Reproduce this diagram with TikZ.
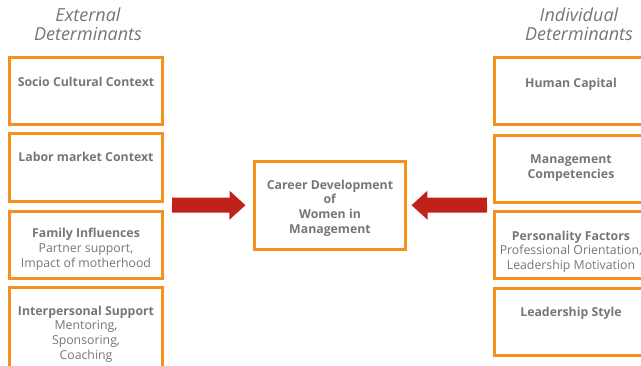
\documentclass[tikz,border=0pt]{standalone}
\usepackage{fontspec}
\setmainfont{Open Sans}
\usepackage{tikz}
\usetikzlibrary{positioning, arrows.meta}
\definecolor{boxorange}{RGB}{245,146,30}
\definecolor{txtgray}{RGB}{118,118,118}
\definecolor{arrowred}{RGB}{192,33,26}
\tikzset{
  detbox/.style={draw=boxorange, line width=3pt, minimum width=153pt, minimum height=67pt, inner sep=0pt},
  boxtext/.style={text=txtgray, align=center, inner sep=0pt, font=\fontsize{12.3}{14.7}\selectfont},
  titletext/.style={text=txtgray, align=center, inner sep=0pt, font=\fontsize{18}{18.5}\selectfont\itshape},
  bigarrow/.style={draw=arrowred, line width=15pt, -{Triangle[length=16pt,width=28pt]}}
}

\begin{document}
\begin{tikzpicture}[x=1pt, y=-1pt]
  \useasboundingbox (0,0) rectangle (641,366);
  \clip (0,0) rectangle (641,366);
  % titles
  \node[titletext] (extTitle) at (88,24.5) {External\\Determinants};
  \node[titletext] (indTitle) at (579,24.5) {Individual\\Determinants};
  % external determinants
  \node[detbox] (socio) at (86,91) {};
  \node[detbox, minimum height=68pt] (labor) at (86,167.5) {};
  \node[detbox] (family) at (86,245) {};
  \node[detbox, minimum height=84pt] (interpers) at (86,329.5) {};
  \node[boxtext, below=21pt of socio.north] (socio-t) {\textbf{Socio Cultural Context}};
  \node[boxtext, below=20pt of labor.north] (labor-t) {\textbf{Labor market Context}};
  \node[boxtext, below=18pt of family.north] (family-t) {\textbf{Family Influences}\\Partner support,\\Impact of motherhood};
  \node[boxtext, below=19.5pt of interpers.north] (interpers-t) {\textbf{Interpersonal Support}\\Mentoring,\\Sponsoring,\\Coaching};
  % individual determinants
  \node[detbox] (humancap) at (571,91) {};
  \node[detbox] (mgmtcomp) at (571,169) {};
  \node[detbox] (personality) at (571,245) {};
  \node[detbox] (leadstyle) at (571,322.5) {};
  \node[boxtext, below=22pt of humancap.north] (humancap-t) {\textbf{Human Capital}};
  \node[boxtext, below=21pt of mgmtcomp.north] (mgmtcomp-t) {\textbf{Management}\\\textbf{Competencies}};
  \node[boxtext, below=20.5pt of personality.north] (personality-t) {\textbf{Personality Factors}\\Professional Orientation,\\Leadership Motivation};
  \node[boxtext, below=19pt of leadstyle.north] (leadstyle-t) {\textbf{Leadership Style}};
  % centre
  \node[detbox, minimum width=151pt, minimum height=88pt] (career) at (330,205.5) {};
  \node[boxtext] (career-t) at ([yshift=-2.5pt]career.center) {\textbf{Career Development}\\\textbf{of}\\\textbf{Women in}\\\textbf{Management}};
  % arrows
  \coordinate (leftin) at (172,205);
  \coordinate (rightin) at (487,205);
  \draw[bigarrow, shorten >=7.5pt] (leftin) -- (career);
  \draw[bigarrow, shorten >=4.5pt] (rightin) -- (career);
\end{tikzpicture}
\end{document}
